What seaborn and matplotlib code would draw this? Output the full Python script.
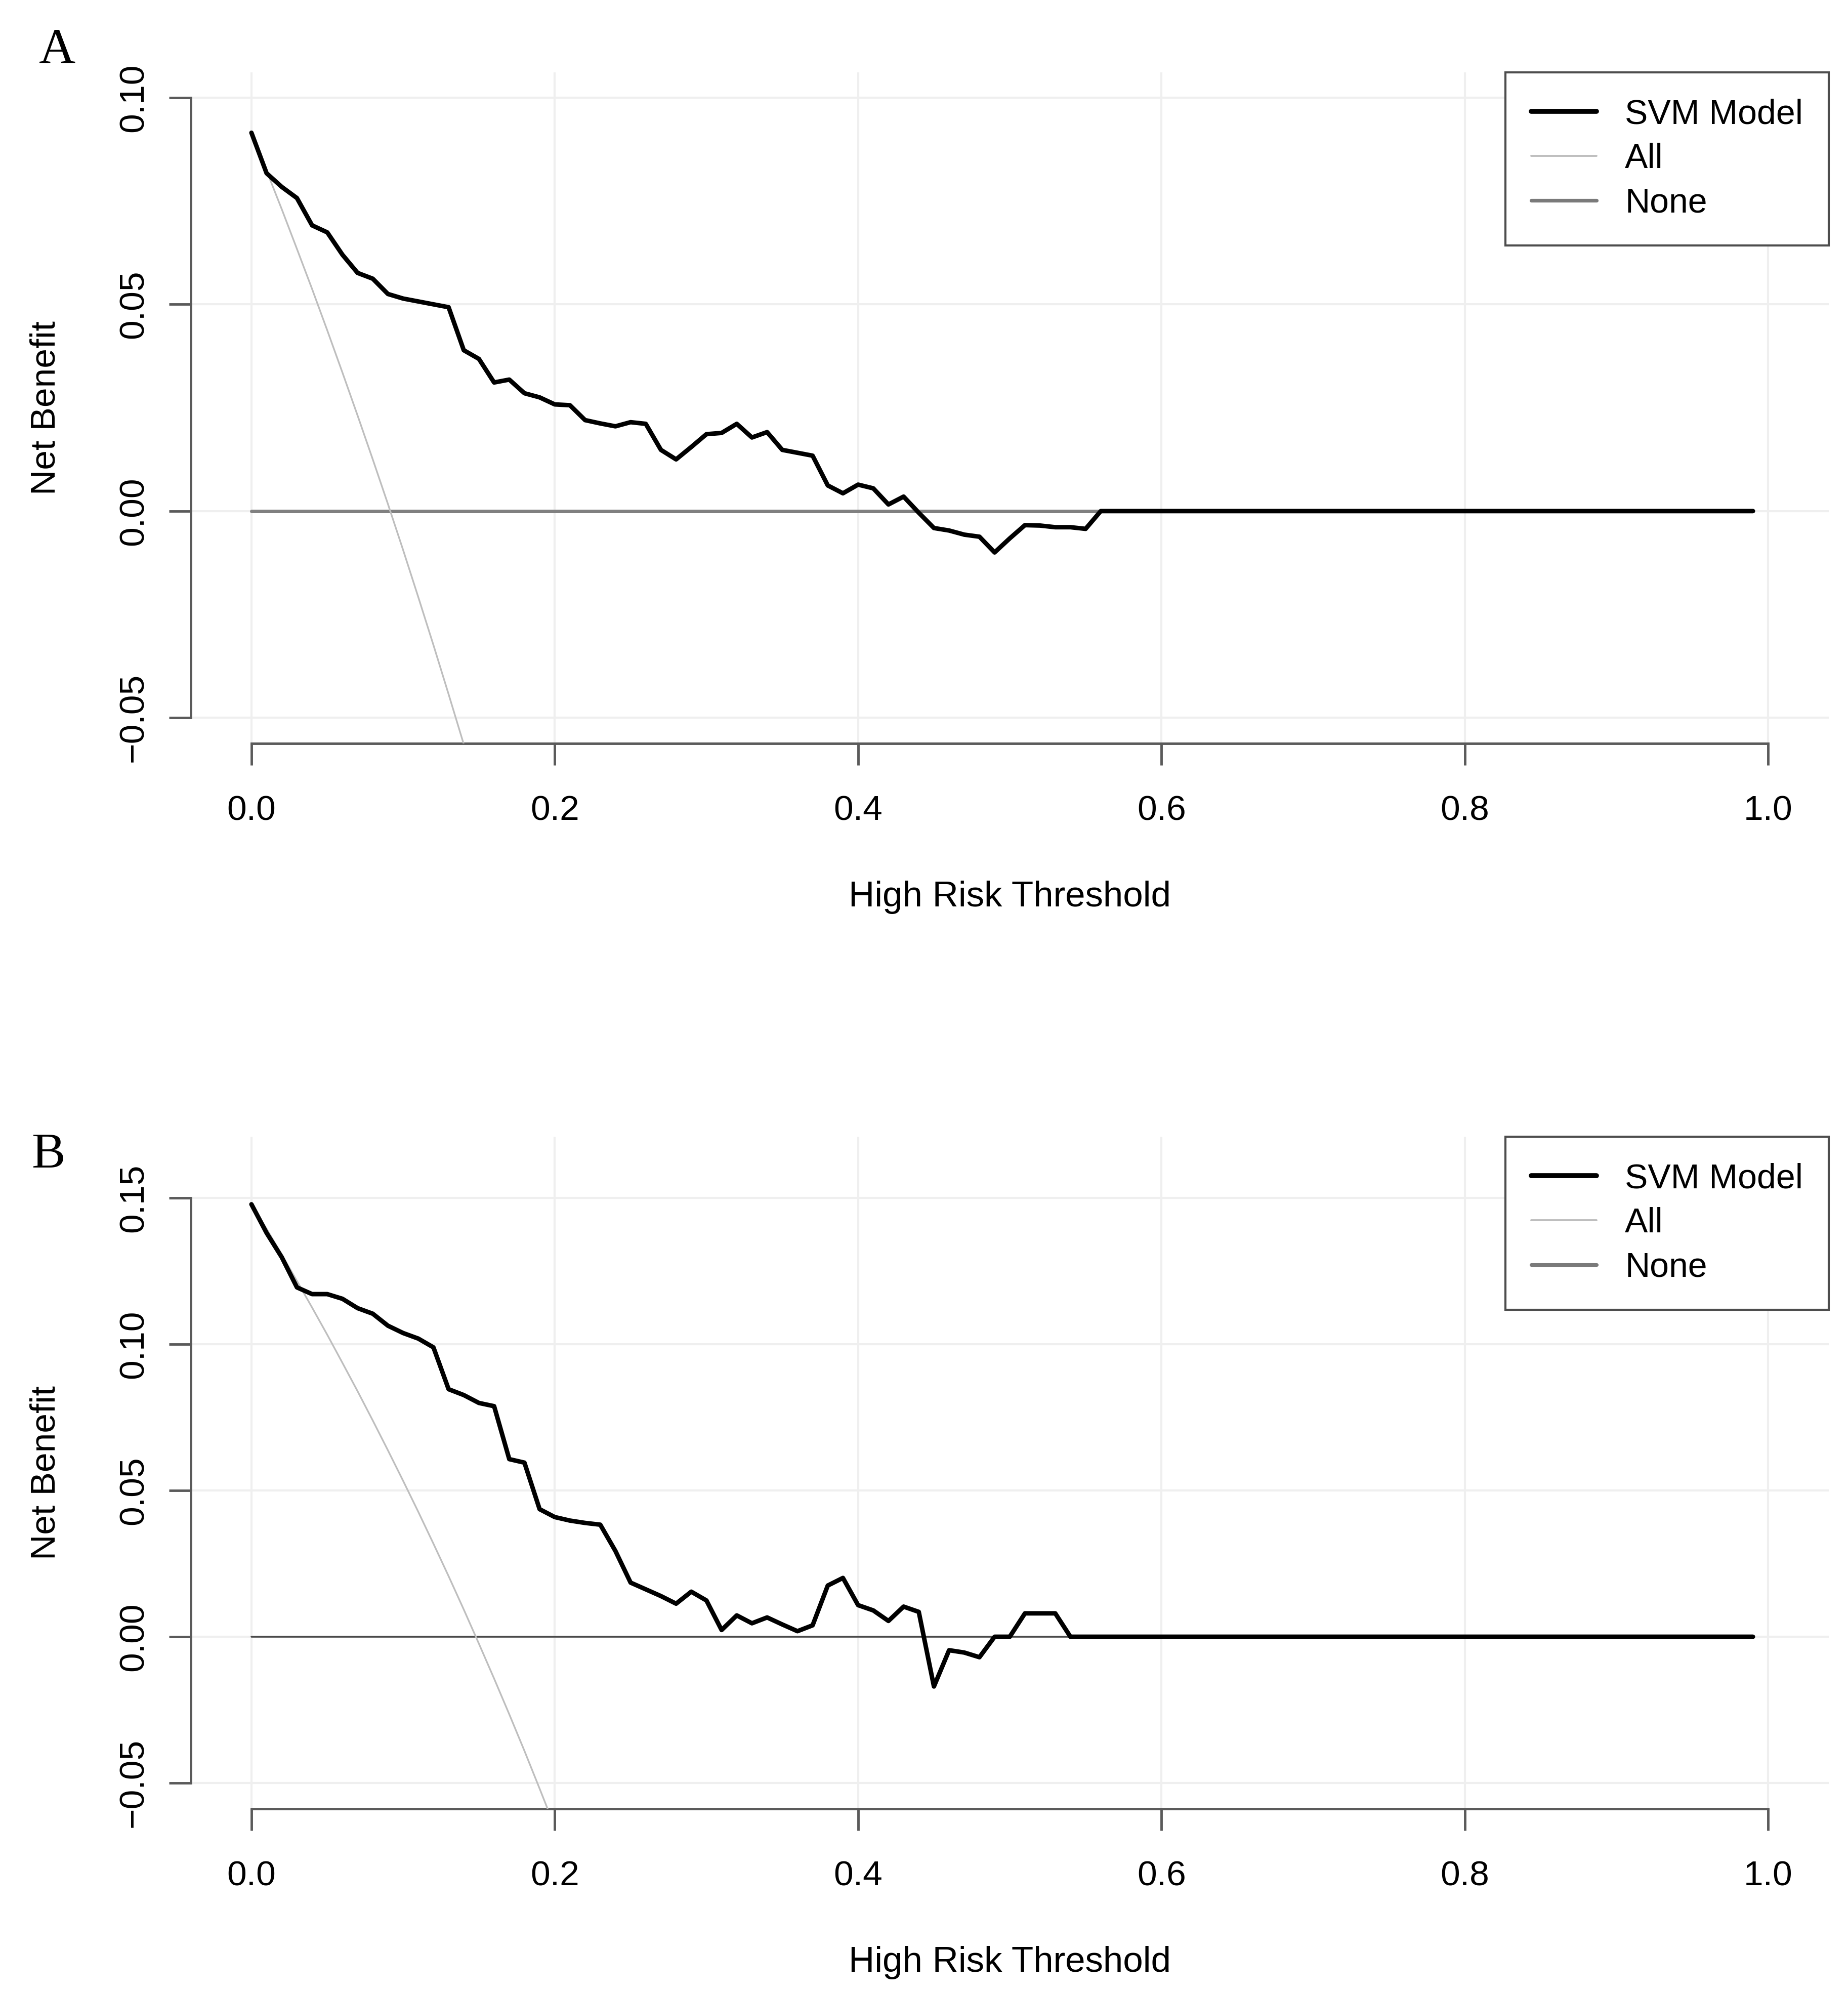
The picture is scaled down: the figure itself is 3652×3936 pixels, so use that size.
import numpy as np
import pandas as pd
import matplotlib
matplotlib.use("Agg")
import matplotlib.pyplot as plt
from matplotlib.lines import Line2D
import seaborn as sns

# ---------------- data ----------------
thresholds = np.round(np.arange(0.0, 1.0, 0.01), 2)          # 0.00 .. 0.99

svm_a = [0.0915, 0.0817, 0.0784, 0.0757, 0.0691, 0.0674, 0.0620, 0.0576, 0.0562, 0.0525,
         0.0514, 0.0507, 0.0500, 0.0493, 0.0389, 0.0368, 0.0311, 0.0318, 0.0285, 0.0275,
         0.0258, 0.0256, 0.0220, 0.0212, 0.0205, 0.0215, 0.0211, 0.0148, 0.0125, 0.0155,
         0.0186, 0.0189, 0.0211, 0.0178, 0.0191, 0.0148, 0.0141, 0.0134, 0.0062, 0.0043,
         0.0064, 0.0055, 0.0016, 0.0035, -0.0004, -0.0041, -0.0047, -0.0057, -0.0062, -0.0100,
         -0.0066, -0.0034, -0.0035, -0.0039, -0.0039, -0.0043] + [0.0] * 44

svm_b = [0.1478, 0.1380, 0.1297, 0.1194, 0.1171, 0.1171, 0.1155, 0.1123, 0.1104, 0.1063,
         0.1038, 0.1019, 0.0989, 0.0846, 0.0826, 0.0799, 0.0788, 0.0607, 0.0595, 0.0436,
         0.0409, 0.0397, 0.0389, 0.0383, 0.0293, 0.0185, 0.0162, 0.0139, 0.0113, 0.0154,
         0.0124, 0.0023, 0.0073, 0.0046, 0.0066, 0.0042, 0.0019, 0.0039, 0.0175, 0.0201,
         0.0108, 0.0090, 0.0054, 0.0103, 0.0085, -0.0170, -0.0046, -0.0054, -0.0070, 0.0000,
         0.0000, 0.0080, 0.0080, 0.0080] + [0.0] * 46

# "All" (treat everyone) curves, read at 0.01 steps until they leave the plot
all_t_a = [0.00, 0.01, 0.02, 0.03, 0.04, 0.05, 0.06, 0.07, 0.08, 0.09, 0.10, 0.11, 0.12, 0.13, 0.14, 0.15]
all_a = [0.0915, 0.0823, 0.0730, 0.0634, 0.0537, 0.0437, 0.0335, 0.0231, 0.0125, 0.0017,
         -0.0094, -0.0208, -0.0324, -0.0443, -0.0564, -0.0688]
all_t_b = [0.00, 0.01, 0.02, 0.03, 0.04, 0.05, 0.06, 0.07, 0.08, 0.09, 0.10,
           0.11, 0.12, 0.13, 0.14, 0.15, 0.16, 0.17, 0.18, 0.19, 0.20]
all_b = [0.1480, 0.1394, 0.1306, 0.1216, 0.1125, 0.1032, 0.0936, 0.0839, 0.0739, 0.0637, 0.0533,
         0.0427, 0.0318, 0.0207, 0.0093, -0.0024, -0.0143, -0.0265, -0.0390, -0.0519, -0.0650]

none_a = [0.0] * len(thresholds)
none_b = [0.0] * len(thresholds)

x_ticks = [0.0, 0.2, 0.4, 0.6, 0.8, 1.0]
x_ticklabels = ["0.0", "0.2", "0.4", "0.6", "0.8", "1.0"]
y_ticks_a = [-0.05, 0.00, 0.05, 0.10]
y_ticklabels_a = ["\u22120.05", "0.00", "0.05", "0.10"]
y_ticks_b = [-0.05, 0.00, 0.05, 0.10, 0.15]
y_ticklabels_b = ["\u22120.05", "0.00", "0.05", "0.10", "0.15"]
legend_labels = ["SVM Model", "All", "None"]
panel_labels = ["A", "B"]

# ---------------- style ----------------
sns.set_theme(style="white")
plt.rcParams["font.family"] = ["Liberation Sans", "DejaVu Sans"]
plt.rcParams["text.color"] = "black"
plt.rcParams["axes.labelcolor"] = "black"
plt.rcParams["xtick.color"] = "black"
plt.rcParams["ytick.color"] = "black"

W, H = 3652, 3936
DPI = 100
fig = plt.figure(figsize=(W / DPI, H / DPI), dpi=DPI)

SPINE_C = "#5a5a5a"
GRID_C = "#efefef"
FS = 50

def px_axes(left, top, right, bottom):
    return fig.add_axes([left / W, 1 - bottom / H, (right - left) / W, (bottom - top) / H])

def draw_panel(ax, svm, all_t, all_v, none, ylim, yticks, yticklabels, none_c, none_lw, label, label_xy):
    ax.set_xlim(-0.04, 1.04)
    ax.set_ylim(*ylim)
    for xt in x_ticks:
        ax.axvline(xt, color=GRID_C, lw=3, zorder=0)
    for yt in yticks:
        ax.axhline(yt, color=GRID_C, lw=3, zorder=0)

    df_none = pd.DataFrame({"t": thresholds, "nb": none})
    sns.lineplot(data=df_none, x="t", y="nb", ax=ax, color=none_c, lw=none_lw,
                 estimator=None, sort=False, zorder=2)
    df_all = pd.DataFrame({"t": all_t, "nb": all_v})
    sns.lineplot(data=df_all, x="t", y="nb", ax=ax, color="#bebebe", lw=2.4,
                 estimator=None, sort=False, zorder=3)
    df_svm = pd.DataFrame({"t": thresholds, "nb": svm})
    sns.lineplot(data=df_svm, x="t", y="nb", ax=ax, color="black", lw=6.4,
                 estimator=None, sort=False, zorder=4)

    ax.set_facecolor("white")
    for s in ["top", "right"]:
        ax.spines[s].set_visible(False)
    for s in ["left", "bottom"]:
        ax.spines[s].set_color(SPINE_C)
        ax.spines[s].set_linewidth(3.5)
    ax.spines["left"].set_bounds(yticks[0], yticks[-1])
    ax.spines["bottom"].set_bounds(x_ticks[0], x_ticks[-1])

    ax.set_xticks(x_ticks)
    ax.set_xticklabels(x_ticklabels)
    ax.set_yticks(yticks)
    ax.set_yticklabels(yticklabels)
    ax.tick_params(axis="both", which="major", bottom=True, left=True, top=False, right=False,
                   direction="out", length=31, width=3.5, color=SPINE_C,
                   labelsize=FS, labelcolor="black")
    ax.tick_params(axis="x", pad=42)
    ax.tick_params(axis="y", pad=27)
    for lab in ax.get_yticklabels():
        lab.set_rotation(90)
        lab.set_verticalalignment("center")
        lab.set_horizontalalignment("right")

    ax.set_xlabel("High Risk Threshold", fontsize=51, color="black")
    ax.set_ylabel("Net Benefit", fontsize=50, color="black")
    ax.xaxis.set_label_coords(0.5, -0.204)
    ax.yaxis.set_label_coords(-0.0785, 0.5)
    ax.grid(False)

    handles = [Line2D([0], [0], color="black", lw=7.0),
               Line2D([0], [0], color="#bebebe", lw=2.8),
               Line2D([0], [0], color="#7a7a7a", lw=5.2)]
    leg = ax.legend(handles, legend_labels, loc="upper right", bbox_to_anchor=(1.0, 1.0),
                    fontsize=49, frameon=True, fancybox=False, framealpha=1.0,
                    edgecolor="#4d4d4d", borderpad=0.75, labelspacing=0.35,
                    handlelength=1.9, handletextpad=0.82, borderaxespad=0.0)
    leg.get_frame().set_linewidth(3.0)
    for t in leg.get_texts():
        t.set_color("black")

    fig.text(label_xy[0] / W, 1 - label_xy[1] / H, label, ha="left", va="baseline",
             fontsize=72, family=["Liberation Serif", "DejaVu Serif"], color="black")

ax_a = px_axes(377, 143, 3614, 1469)
draw_panel(ax_a, svm_a, all_t_a, all_a, none_a, (-0.0562, 0.1061), y_ticks_a, y_ticklabels_a,
           "#808080", 5.0, panel_labels[0], (77, 125))

ax_b = px_axes(377, 2246, 3614, 3574)
draw_panel(ax_b, svm_b, all_t_b, all_b, none_b, (-0.0588, 0.1709), y_ticks_b, y_ticklabels_b,
           "#4a4a4a", 2.6, panel_labels[1], (62, 2306))

fig.savefig("out.png", dpi=DPI, facecolor="white")
